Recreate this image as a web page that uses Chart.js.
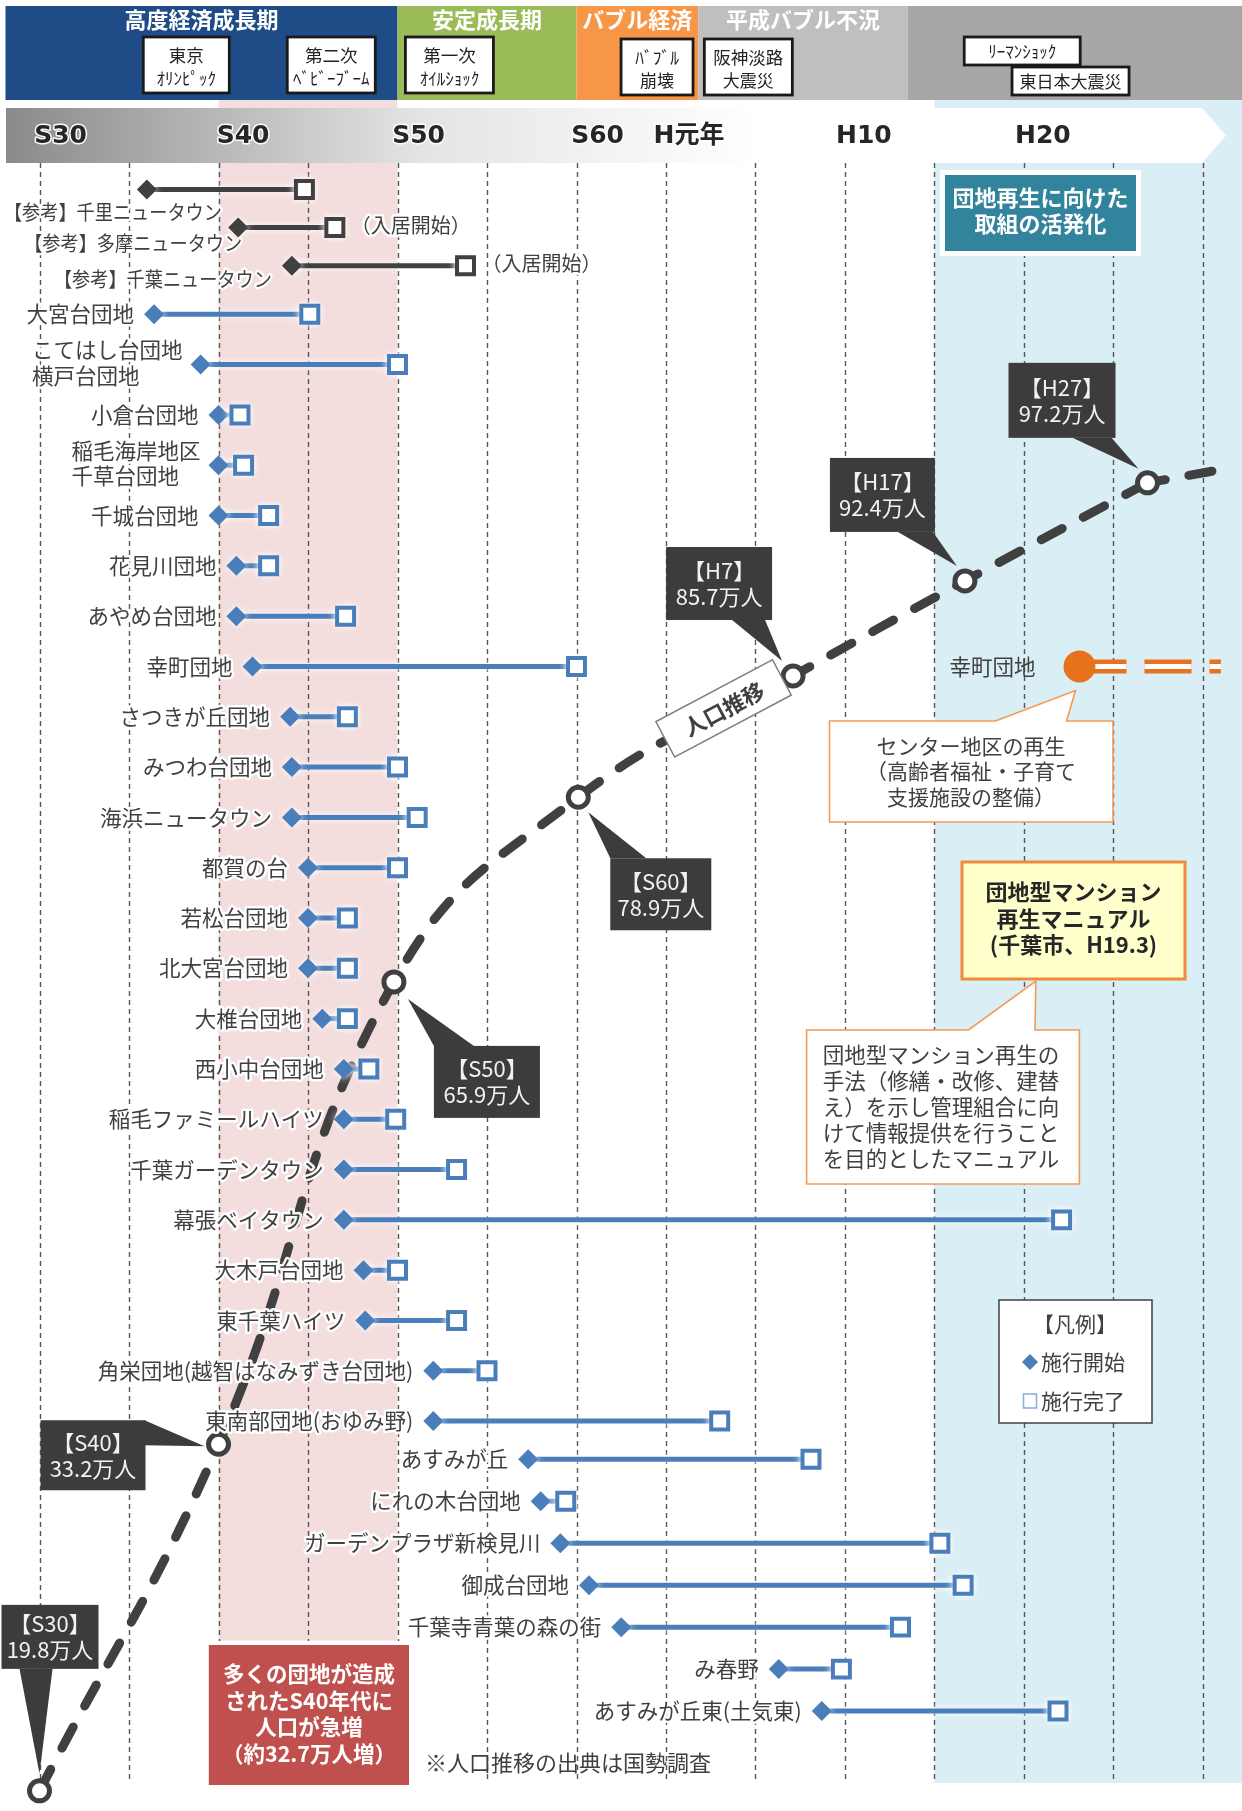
<!DOCTYPE html>
<html><head><meta charset="utf-8">
<script src="https://cdn.jsdelivr.net/npm/chart.js@4.4.1/dist/chart.umd.min.js"></script>
<style>html,body{margin:0;padding:0;background:#fff;}canvas{display:block;}</style>
</head><body>
<canvas id="c" width="1242" height="1811" style="width:1242px;height:1811px"></canvas>
<script>
// ---------------- DATA ----------------
const eraNames  = ['高度経済成長期', '安定成長期', 'バブル経済', '平成バブル不況', ''];
const eraStart  = [1953.1, 1975, 1985, 1991.8, 2003.5];
const eraEnd    = [1975, 1985, 1991.8, 2003.5, 2022.2];

const eventLabels = [['東京', 'ｵﾘﾝﾋﾟｯｸ'], ['第二次', 'ﾍﾞﾋﾞｰﾌﾞｰﾑ'], ['第一次', 'ｵｲﾙｼｮｯｸ'],
                     ['ﾊﾞﾌﾞﾙ', '崩壊'], ['阪神淡路', '大震災'], ['ﾘｰﾏﾝｼｮｯｸ'], ['東日本大震災']];
const eventYears  = [1963.2, 1971.3, 1977.9, 1989.5, 1994.6, 2009.9, 2012.6];

const tickLabels = ['S30', 'S40', 'S50', 'S60', 'H元年', 'H10', 'H20'];
const tickYears  = [1954.7, 1964.9, 1974.7, 1984.7, 1989.3, 1999.5, 2009.5];
const gridYears  = [1955, 1960, 1965, 1970, 1975, 1980, 1985, 1990, 1995, 2000, 2005, 2010, 2015, 2020];

const bandStart = [1965, 2005];
const bandEnd   = [1975, 2022.2];

const refNames = ['【参考】千里ニュータウン', '【参考】多摩ニュータウン', '【参考】千葉ニュータウン'];
const refStart = [1961.0, 1966.1, 1969.1];
const refEnd   = [1969.8, 1971.5, 1978.8];
const refNotes = ['', '（入居開始）', '（入居開始）'];

const danchiNames = ['大宮台団地', 'こてはし台団地\n横戸台団地', '小倉台団地', '稲毛海岸地区\n千草台団地',
  '千城台団地', '花見川団地', 'あやめ台団地', '幸町団地', 'さつきが丘団地', 'みつわ台団地',
  '海浜ニュータウン', '都賀の台', '若松台団地', '北大宮台団地', '大椎台団地', '西小中台団地',
  '稲毛ファミールハイツ', '千葉ガーデンタウン', '幕張ベイタウン', '大木戸台団地', '東千葉ハイツ',
  '角栄団地(越智はなみずき台団地)', '東南部団地(おゆみ野)', 'あすみが丘', 'にれの木台団地',
  'ガーデンプラザ新検見川', '御成台団地', '千葉寺青葉の森の街', 'み春野', 'あすみが丘東(土気東)'];
const danchiStart = [1961.4, 1964.0, 1965.0, 1965.0, 1965.0, 1966.0, 1966.0, 1966.9, 1969.0, 1969.1,
  1969.1, 1970.0, 1970.0, 1970.0, 1970.8, 1972.0, 1972.0, 1972.0, 1972.0, 1973.1,
  1973.2, 1977.0, 1977.0, 1982.3, 1983.0, 1984.1, 1985.7, 1987.5, 1996.3, 1998.7];
const danchiEnd = [1970.1, 1975.0, 1966.2, 1966.4, 1967.8, 1967.8, 1972.1, 1985.0, 1972.2, 1975.0,
  1976.1, 1975.0, 1972.2, 1972.2, 1972.2, 1973.4, 1974.9, 1978.3, 2012.1, 1975.0,
  1978.3, 1980.0, 1993.0, 1998.1, 1984.4, 2005.3, 2006.6, 2003.1, 1999.8, 2011.9];

const regenName  = '幸町団地';
const regenStart = 2013.1;
const regenEnd   = 2021.0;

const popLabels = ['S30', 'S40', 'S50', 'S60', 'H7', 'H17', 'H27'];
const popValues = [19.8, 33.2, 65.9, 78.9, 85.7, 92.4, 97.2];          // 万人
const popYears  = [1955, 1965, 1974.8, 1985.1, 1997.1, 2006.7, 2016.9];  // as drawn
const popLevel  = [29.35, 22.46, 13.27, 9.60, 7.19, 5.30, 3.35];        // drawn height on row scale
const popTrendYear = 2020.5, popTrendLevel = 3.12;

// ---------------- LAYOUT ----------------
const W = 1242, H = 1811;
const AREA = {top: 163, bottom: 1783};
const X_ORIGIN_PX = 39.5, PX_PER_YEAR = 17.9;
const X_MIN = 1955 - X_ORIGIN_PX / PX_PER_YEAR;
const X_MAX = X_MIN + W / PX_PER_YEAR;
const SPLIT_B = 23;

function rowAxis(firstIdx, lastIdx, firstPx, lastPx) {
  const per = (lastPx - firstPx) / (lastIdx - firstIdx);
  const min = firstIdx - (firstPx - AREA.top) / per;
  const max = min + (AREA.bottom - AREA.top) / per;
  return {type: 'linear', display: false, reverse: true, min: min, max: max};
}

const BLUE = '#4a7ebb', DARK = '#404040', ORANGE = '#e8711c', TXT = '#404040';
const JP = "'Noto Sans CJK JP', 'Noto Sans', sans-serif";
const eraColors = ['#1f4b87', '#9bbb59', '#f79646', '#bfbfbf', '#a6a6a6'];
const eventBoxes = [{w: 86, top: 37, h: 56}, {w: 88, top: 37, h: 56}, {w: 88, top: 37, h: 56},
  {w: 72, top: 39, h: 56}, {w: 88, top: 39, h: 56}, {w: 116, top: 37, h: 28}, {w: 117, top: 67, h: 28}];
const refLabelOff = [[75, 23], [4, 16], [-20, 14]];
const callouts = [
  {box: [-38, -186, 97, 64], ptr: [[-20, -122], [13, -122], [0, -17]]},
  {box: [-178, -24, 105, 70], ptr: [[-74, -24], [-74, 1], [-14, 2]]},
  {box: [40, 64, 106, 72], ptr: [[40, 64], [80, 64], [14, 17]]},
  {box: [32, 61, 101, 72], ptr: [[32, 61], [68, 61], [10, 15]]},
  {box: [-127, -129, 106, 73], ptr: [[-61, -56], [-28, -56], [-11, -15]]},
  {box: [-135, -123, 105, 74], ptr: [[-67, -49], [-32, -49], [-8, -15]]},
  {box: [-139, -120, 107, 75], ptr: [[-75, -45], [-36, -45], [-9, -14]]}
];
const POP_DASH = [24, 24];

// ---------------- DATASETS ----------------
const datasets = [];
const barIdx = new Set();
function bar(name, s, e, y, axis, color) {
  barIdx.add(datasets.length);
  datasets.push({label: name, data: [{x: s, y: y}, {x: e, y: y}], xAxisID: 'x', yAxisID: axis,
    borderColor: color, borderWidth: 5, pointStyle: ['rectRot', 'rect'], pointRadius: [10, 12],
    pointHoverRadius: [10, 12], pointBackgroundColor: [color, '#ffffff'], pointBorderColor: color,
    pointBorderWidth: [0, 4], tension: 0, order: 1, clip: false});
}
refNames.forEach((n, i) => bar(n, refStart[i], refEnd[i], i, 'yRef', DARK));
danchiNames.forEach((n, i) => bar(n, danchiStart[i], danchiEnd[i], i, i < SPLIT_B ? 'yA' : 'yB', BLUE));
const regenRow = danchiNames.indexOf(regenName);
datasets.push({label: 'regen-line', data: [{x: regenStart, y: regenRow}, {x: regenEnd, y: regenRow}], yAxisID: 'yA', xAxisID: 'x',
  borderColor: ORANGE, borderWidth: 14, borderDash: [47, 18], pointRadius: 0, order: 4, clip: false});
datasets.push({label: 'regen-gap', data: [{x: regenStart, y: regenRow}, {x: regenEnd, y: regenRow}], yAxisID: 'yA', xAxisID: 'x',
  borderColor: '#ffffff', borderWidth: 5, borderDash: [47, 18], pointRadius: 0, order: 3, clip: false});
const regenIdx = datasets.length;
datasets.push({label: regenName, data: [{x: regenStart, y: regenRow}], yAxisID: 'yA', xAxisID: 'x', showLine: false,
  pointStyle: 'circle', pointRadius: 16, pointBackgroundColor: ORANGE, pointBorderWidth: 0, order: 2, clip: false});
const popIdx = datasets.length;
datasets.push({label: '人口推移', data: popYears.map((x, i) => ({x: x, y: popLevel[i]})), yAxisID: 'yA', xAxisID: 'x',
  borderColor: '#404040', borderWidth: 9, borderDash: POP_DASH, borderCapStyle: 'round', tension: 0.45,
  pointStyle: 'circle', pointRadius: 10, pointBackgroundColor: '#ffffff', pointBorderColor: '#404040',
  pointBorderWidth: 5, order: 8, clip: false});
datasets.push({label: '人口推移(延長)', data: [{x: popYears[popYears.length - 1], y: popLevel[popLevel.length - 1]}, {x: popTrendYear, y: popTrendLevel}],
  yAxisID: 'yA', xAxisID: 'x', borderColor: '#404040', borderWidth: 9, borderDash: POP_DASH, borderDashOffset: 6,
  borderCapStyle: 'round', pointRadius: 0, order: 9, clip: false});

// ---------------- DRAW HELPERS ----------------
function txt(ctx, s, x, y, font, color, align, halo, maxW) {
  ctx.save();
  ctx.font = font; ctx.textAlign = align || 'left'; ctx.textBaseline = 'middle';
  if (halo) { ctx.lineJoin = 'round'; ctx.strokeStyle = 'rgba(255,255,255,0.95)'; ctx.lineWidth = halo;
    if (maxW) ctx.strokeText(s, x, y, maxW); else ctx.strokeText(s, x, y); }
  ctx.fillStyle = color;
  if (maxW) ctx.fillText(s, x, y, maxW); else ctx.fillText(s, x, y);
  ctx.restore();
}
function topCallout(ctx, L, T, R, B, ax, bx, tip, stroke) {
  ctx.save();
  ctx.beginPath();
  ctx.moveTo(L, T); ctx.lineTo(ax, T); ctx.lineTo(tip[0], tip[1]); ctx.lineTo(bx, T);
  ctx.lineTo(R, T); ctx.lineTo(R, B); ctx.lineTo(L, B); ctx.closePath();
  ctx.fillStyle = '#ffffff'; ctx.fill();
  ctx.strokeStyle = stroke; ctx.lineWidth = 1.6; ctx.stroke();
  ctx.restore();
}

const decor = {
  id: 'decor',
  beforeDraw(chart) {
    const ctx = chart.ctx, xs = chart.scales.x;
    const px = v => xs.getPixelForValue(v);
    ctx.save();
    ctx.fillStyle = '#ffffff'; ctx.fillRect(0, 0, W, H);
    // bands
    ctx.fillStyle = '#f3dddd'; ctx.fillRect(px(bandStart[0]), 100, px(bandEnd[0]) - px(bandStart[0]), 1640.6 - 100);
    ctx.fillStyle = '#daeef5'; ctx.fillRect(px(bandStart[1]), 100, px(bandEnd[1]) - px(bandStart[1]), AREA.bottom - 100);
    // grid
    ctx.strokeStyle = '#555555'; ctx.lineWidth = 1.4; ctx.setLineDash([5, 4]);
    gridYears.forEach(g => { const x = Math.round(px(g)) + 0.5; ctx.beginPath(); ctx.moveTo(x, AREA.top); ctx.lineTo(x, AREA.bottom); ctx.stroke(); });
    ctx.setLineDash([]);
    // timeline arrow
    const grad = ctx.createLinearGradient(6, 0, 760, 0);
    grad.addColorStop(0, '#8a8a8a'); grad.addColorStop(0.55, '#e4e4e4'); grad.addColorStop(1, '#ffffff');
    ctx.fillStyle = grad;
    ctx.beginPath(); ctx.moveTo(6, 108); ctx.lineTo(1202, 108); ctx.lineTo(1226, 135.5); ctx.lineTo(1202, 163); ctx.lineTo(6, 163); ctx.closePath(); ctx.fill();
    tickLabels.forEach((t, i) => txt(ctx, t, px(tickYears[i]), 136, "bold 25px 'DejaVu Sans', " + JP, '#262626', 'left', 3));
    // header eras
    eraNames.forEach((n, i) => {
      const x0 = px(eraStart[i]), x1 = px(eraEnd[i]);
      ctx.fillStyle = eraColors[i]; ctx.fillRect(x0, 6, x1 - x0, 94);
      if (n) txt(ctx, n, (x0 + x1) / 2, 20, 'bold 22px ' + JP, '#ffffff', 'center');
    });
    // events
    eventLabels.forEach((lines, i) => {
      const b = eventBoxes[i], cx = px(eventYears[i]);
      ctx.fillStyle = '#ffffff'; ctx.fillRect(cx - b.w / 2, b.top, b.w, b.h);
      ctx.strokeStyle = '#1a1a1a'; ctx.lineWidth = 2.8; ctx.strokeRect(cx - b.w / 2, b.top, b.w, b.h);
      if (lines.length === 1) txt(ctx, lines[0], cx, b.top + b.h / 2 + 1, '17px ' + JP, '#222222', 'center');
      else { txt(ctx, lines[0], cx, b.top + 18.5, '17.5px ' + JP, '#222222', 'center');
             txt(ctx, lines[1], cx, b.top + 41.5, '17px ' + JP, '#222222', 'center'); }
    });
    ctx.restore();
  },
  beforeDatasetDraw(chart, args) {
    if (barIdx.has(args.index)) { chart.ctx.save(); chart.ctx.shadowColor = 'rgba(255,255,255,1)'; chart.ctx.shadowBlur = 7; }
  },
  afterDatasetDraw(chart, args) {
    if (barIdx.has(args.index)) chart.ctx.restore();
  },
  afterDatasetsDraw(chart) {
    const ctx = chart.ctx;
    const LF = '21.5px ' + JP;
    // row labels
    refNames.forEach((n, i) => {
      const m = chart.getDatasetMeta(i), d = m.data[0], s = m.data[1];
      txt(ctx, n, d.x + refLabelOff[i][0], d.y + refLabelOff[i][1], '20px ' + JP, TXT, 'right', 5, 218);
      if (refNotes[i]) txt(ctx, refNotes[i], s.x + 16, s.y - 2, '20px ' + JP, TXT, 'left', 5);
    });
    danchiNames.forEach((n, i) => {
      const m = chart.getDatasetMeta(refNames.length + i), d = m.data[0];
      const lines = n.split('\n');
      if (lines.length === 1) txt(ctx, n, d.x - 20, d.y, LF, TXT, 'right', 5);
      else {
        ctx.save(); ctx.font = LF;
        const mw = Math.max.apply(null, lines.map(l => ctx.measureText(l).width)); ctx.restore();
        const left = d.x - 18 - mw;
        lines.forEach((l, k) => txt(ctx, l, left, d.y + (k - (lines.length - 1) / 2) * 25.6 - 2, LF, TXT, 'left', 5));
      }
    });
    const rp = chart.getDatasetMeta(regenIdx).data[0];
    txt(ctx, regenName, rp.x - 44, rp.y, LF, TXT, 'right');

    // population callouts
    const pm = chart.getDatasetMeta(popIdx).data;
    pm.forEach((p, i) => {
      const c = callouts[i];
      const bx = p.x + c.box[0], by = p.y + c.box[1], bw = c.box[2], bh = c.box[3];
      ctx.save();
      ctx.fillStyle = '#3c3c3c';
      ctx.beginPath(); ctx.moveTo(p.x + c.ptr[0][0], p.y + c.ptr[0][1]); ctx.lineTo(p.x + c.ptr[1][0], p.y + c.ptr[1][1]);
      ctx.lineTo(p.x + c.ptr[2][0], p.y + c.ptr[2][1]); ctx.closePath(); ctx.fill();
      ctx.fillRect(bx, by, bw, bh);
      ctx.restore();
      txt(ctx, '【' + popLabels[i] + '】', bx + bw / 2, by + bh / 2 - 13, '22px ' + JP, '#f2f2f2', 'center');
      txt(ctx, popValues[i].toFixed(1) + '万人', bx + bw / 2, by + bh / 2 + 13, '22px ' + JP, '#f2f2f2', 'center');
    });
    // 人口推移 tag
    {
      const p1 = pm[3], p2 = pm[4], t = 0.69;
      const ang = Math.atan2(p2.y - p1.y, p2.x - p1.x);
      const cx = p1.x + (p2.x - p1.x) * t + Math.sin(ang) * 6, cy = p1.y + (p2.y - p1.y) * t - Math.cos(ang) * 6;
      ctx.save(); ctx.translate(cx, cy); ctx.rotate(ang + 0.026);
      ctx.fillStyle = '#ffffff'; ctx.fillRect(-66, -20, 132, 40);
      ctx.strokeStyle = '#7f7f7f'; ctx.lineWidth = 1.5; ctx.strokeRect(-66, -20, 132, 40);
      ctx.font = 'bold 22px ' + JP; ctx.textAlign = 'center'; ctx.textBaseline = 'middle'; ctx.fillStyle = '#404040';
      ctx.fillText('人口推移', 0, 1);
      ctx.restore();
    }
    // teal box
    ctx.save();
    ctx.fillStyle = '#ffffff'; ctx.fillRect(940, 170, 201, 86);
    ctx.fillStyle = '#31849b'; ctx.fillRect(945, 175, 191, 76);
    ctx.restore();
    txt(ctx, '団地再生に向けた', 1040.5, 198, 'bold 22px ' + JP, '#ffffff', 'center');
    txt(ctx, '取組の活発化', 1040.5, 224, 'bold 22px ' + JP, '#ffffff', 'center');
    // センター callout
    topCallout(ctx, 829.5, 721, 1113, 822, 995.5, 1066.6, [rp.x - 4, rp.y + 24], '#f39a55');
    ['センター地区の再生', '（高齢者福祉・子育て', '支援施設の整備）'].forEach((l, k) =>
      txt(ctx, l, 971, 746 + k * 25.5, '21px ' + JP, TXT, 'center'));
    // yellow manual box
    ctx.save();
    ctx.fillStyle = '#ffffcc'; ctx.fillRect(962, 862, 223, 117);
    ctx.strokeStyle = '#f08a3c'; ctx.lineWidth = 3; ctx.strokeRect(962, 862, 223, 117);
    ctx.restore();
    ['団地型マンション', '再生マニュアル', '(千葉市、H19.3)'].forEach((l, k) =>
      txt(ctx, l, 1073.5, 892 + k * 26.5, 'bold 22px ' + JP, '#262626', 'center'));
    // manual callout
    topCallout(ctx, 806.6, 1030, 1079.4, 1184, 968.5, 1035, [1035.8, 981], '#f39a55');
    ['団地型マンション再生の', '手法（修繕・改修、建替', 'え）を示し管理組合に向', 'けて情報提供を行うこと', 'を目的としたマニュアル'].forEach((l, k) =>
      txt(ctx, l, 822.8, 1054.5 + k * 26.2, '21.5px ' + JP, TXT, 'left'));
    // legend
    ctx.save();
    ctx.fillStyle = '#ffffff'; ctx.fillRect(999, 1300, 153, 123);
    ctx.strokeStyle = '#404040'; ctx.lineWidth = 1.5; ctx.strokeRect(999, 1300, 153, 123);
    ctx.fillStyle = BLUE; ctx.beginPath(); ctx.moveTo(1030, 1354); ctx.lineTo(1038, 1362); ctx.lineTo(1030, 1370); ctx.lineTo(1022, 1362); ctx.closePath(); ctx.fill();
    ctx.strokeStyle = '#8fb0da'; ctx.lineWidth = 1.6; ctx.strokeRect(1023.5, 1394, 13, 14);
    ctx.restore();
    txt(ctx, '【凡例】', 1075, 1324, '21px ' + JP, TXT, 'center');
    txt(ctx, '施行開始', 1041, 1362, '21px ' + JP, TXT, 'left');
    txt(ctx, '施行完了', 1041, 1401, '21px ' + JP, TXT, 'left');
    // red box
    ctx.save();
    ctx.fillStyle = '#ffffff'; ctx.fillRect(205, 1641, 208, 148);
    ctx.fillStyle = '#c0504d'; ctx.fillRect(208.8, 1645, 200.2, 140);
    ctx.restore();
    ['多くの団地が造成', 'されたS40年代に', '人口が急増', '（約32.7万人増）'].forEach((l, k) =>
      txt(ctx, l, 309, 1674 + k * 26.5, 'bold 21.5px ' + JP, '#ffffff', 'center'));
    // footnote
    txt(ctx, '※人口推移の出典は国勢調査', 425, 1763, '22px ' + JP, TXT, 'left');
  }
};

new Chart(document.getElementById('c'), {
  type: 'line',
  data: {datasets: datasets},
  options: {
    responsive: false, animation: false, devicePixelRatio: 1,
    layout: {autoPadding: false, padding: {top: AREA.top, bottom: H - AREA.bottom, left: 0, right: 0}},
    plugins: {legend: {display: false}, tooltip: {enabled: false}, title: {display: false}},
    events: [],
    scales: {
      x: {type: 'linear', display: false, min: X_MIN, max: X_MAX},
      yRef: rowAxis(0, 2, 189.5, 265.7),
      yA: rowAxis(0, 22, 314.3, 1421.1),
      yB: rowAxis(23, 29, 1459.2, 1711.1)
    }
  },
  plugins: [decor]
});
</script>
</body></html>
